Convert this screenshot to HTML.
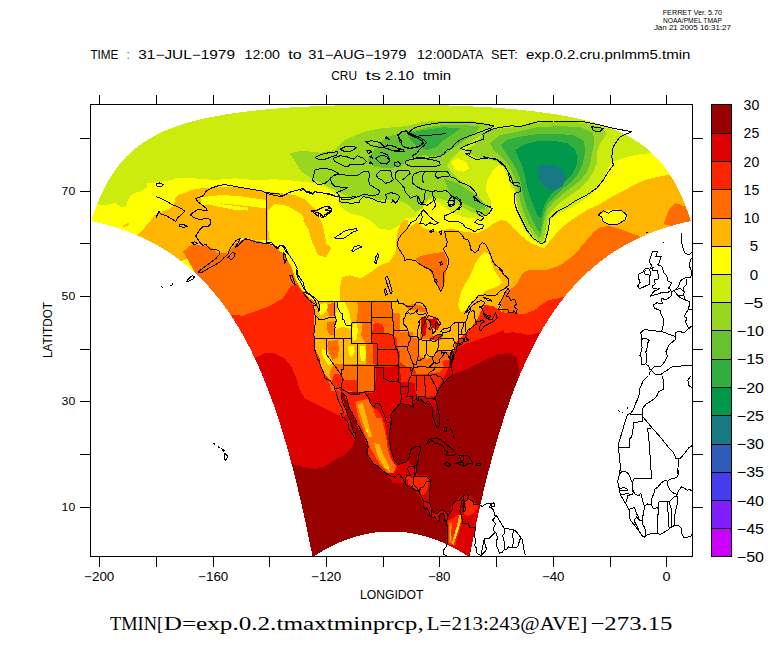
<!DOCTYPE html>
<html><head><meta charset="utf-8"><title>FERRET</title>
<style>
html,body{margin:0;padding:0;background:#fff;}
svg{display:block}
text{font-family:"Liberation Sans",sans-serif;fill:#000}
.ser{font-family:"Liberation Serif",serif}
</style></head><body>
<svg width="768" height="662" viewBox="0 0 768 662">
<rect width="768" height="662" fill="#fff"/>
<defs><clipPath id="dom"><polygon points="91.2,221.0 93.1,215.2 95.2,209.5 97.3,203.8 99.6,198.2 102.1,192.6 104.8,187.2 107.7,181.8 110.9,176.6 114.3,171.4 118.0,166.3 122.1,161.4 126.5,156.5 131.5,151.8 136.9,147.2 142.9,142.8 149.7,138.5 157.2,134.4 165.7,130.4 175.3,126.7 186.2,123.1 198.6,119.8 212.7,116.7 228.9,113.9 247.4,111.4 268.3,109.2 291.9,107.4 317.9,106.0 346.2,105.1 375.9,104.6 406.1,104.6 435.9,105.1 464.1,106.0 490.2,107.4 513.7,109.2 534.7,111.4 553.1,113.9 569.3,116.7 583.5,119.8 595.9,123.1 606.7,126.7 616.3,130.4 624.8,134.4 632.4,138.5 639.1,142.8 645.2,147.2 650.6,151.8 655.5,156.5 660.0,161.4 664.1,166.3 667.8,171.4 671.2,176.6 674.3,181.8 677.2,187.2 679.9,192.6 682.4,198.2 684.7,203.8 686.9,209.5 688.9,215.2 690.8,221.0 681.8,223.0 673.0,225.4 664.4,227.9 656.1,230.8 648.0,234.0 640.2,237.4 632.6,241.0 625.4,244.9 618.3,249.0 611.6,253.3 605.1,257.9 598.9,262.6 592.9,267.5 587.2,272.6 581.7,277.9 576.4,283.3 571.4,288.8 566.5,294.5 561.9,300.3 557.4,306.3 553.2,312.3 549.1,318.5 545.2,324.7 541.4,331.0 537.8,337.4 534.4,343.9 531.1,350.4 527.9,357.0 524.8,363.6 521.9,370.2 519.1,376.9 516.3,383.6 513.7,390.4 511.2,397.1 508.8,403.9 506.4,410.6 504.2,417.4 502.0,424.1 499.9,430.9 497.8,437.6 495.9,444.3 494.0,450.9 492.2,457.6 490.4,464.2 488.7,470.7 487.0,477.3 485.4,483.7 483.8,490.2 482.3,496.5 480.9,502.9 479.4,509.2 478.1,515.4 476.7,521.5 475.4,527.6 474.2,533.7 472.9,539.7 471.7,545.6 470.6,551.4 469.4,557.2 467.0,555.6 464.5,554.0 462.0,552.5 459.5,551.0 457.0,549.5 454.4,548.2 451.8,546.8 449.3,545.5 446.7,544.3 444.0,543.1 441.4,542.0 438.8,540.9 436.1,539.9 433.5,538.9 430.8,538.0 428.1,537.1 425.4,536.3 422.7,535.6 419.9,534.9 417.2,534.3 414.5,533.7 411.7,533.2 409.0,532.8 406.2,532.4 403.5,532.1 400.7,531.9 397.9,531.7 395.2,531.6 392.4,531.5 389.6,531.5 386.9,531.6 384.1,531.7 381.3,531.9 378.6,532.1 375.8,532.4 373.1,532.8 370.3,533.2 367.6,533.7 364.8,534.3 362.1,534.9 359.4,535.6 356.7,536.3 354.0,537.1 351.3,538.0 348.6,538.9 345.9,539.9 343.3,540.9 340.6,542.0 338.0,543.1 335.4,544.3 332.8,545.5 330.2,546.8 327.6,548.2 325.1,549.5 322.6,551.0 320.0,552.5 317.5,554.0 315.1,555.6 312.6,557.2 311.5,551.4 310.3,545.6 309.1,539.7 307.9,533.7 306.6,527.6 305.3,521.5 304.0,515.4 302.6,509.2 301.2,502.9 299.7,496.5 298.2,490.2 296.7,483.7 295.0,477.3 293.4,470.7 291.7,464.2 289.9,457.6 288.1,450.9 286.2,444.3 284.2,437.6 282.2,430.9 280.1,424.1 277.9,417.4 275.6,410.6 273.3,403.9 270.9,397.1 268.3,390.4 265.7,383.6 263.0,376.9 260.2,370.2 257.2,363.6 254.2,357.0 251.0,350.4 247.7,343.9 244.2,337.4 240.6,331.0 236.9,324.7 232.9,318.5 228.9,312.3 224.6,306.3 220.2,300.3 215.5,294.5 210.7,288.8 205.6,283.3 200.4,277.9 194.9,272.6 189.1,267.5 183.2,262.6 176.9,257.9 170.5,253.3 163.7,249.0 156.7,244.9 149.4,241.0 141.8,237.4 134.0,234.0 125.9,230.8 117.6,227.9 109.0,225.4 100.2,223.0"/></clipPath>
<clipPath id="frame"><rect x="90.5" y="104.5" width="602.0" height="452.0"/></clipPath></defs>

<g clip-path="url(#frame)"><g shape-rendering="crispEdges">
<rect x="80" y="100" width="620" height="460" fill="#CCEB0F"/>
<polygon fill="#FFFF00" points="88.0,200.0 97.4,204.2 104.7,205.2 115.1,203.1 121.3,207.3 126.5,206.2 127.6,200.0 130.7,195.8 134.9,192.7 140.1,191.7 147.4,187.5 147.4,183.3 156.8,182.3 171.3,180.2 175.5,178.3 196.3,178.3 204.7,180.4 217.2,180.4 223.4,178.3 233.8,179.4 248.0,179.8 248.0,237.9 88.0,237.9"/>
<polygon fill="#FFFF00" points="344.0,201.7 354.0,208.3 364.0,211.7 377.3,213.3 387.3,211.7 397.3,215.0 407.3,218.3 415.7,216.7 422.3,206.7 429.0,200.0 437.3,201.7 444.0,206.7 454.0,213.3 464.0,217.3 477.3,218.7 487.3,215.0 490.7,210.0 490.7,200.0 485.7,190.0 487.3,180.0 492.3,171.7 499.0,165.0 503.3,166.7 509.0,180.0 510.7,188.3 517.3,190.0 520.7,196.7 517.3,206.7 519.0,216.7 524.0,230.0 532.3,240.0 544.0,245.7 547.3,236.7 554.0,226.7 564.0,216.7 577.3,208.3 590.7,200.0 600.0,186.7 600.0,320.0 344.0,320.0"/>
<polygon fill="#FFFF00" points="543.7,244.0 547.0,233.3 550.3,220.0 558.7,213.3 572.0,207.3 583.7,200.0 593.7,191.7 600.3,185.0 605.3,175.0 610.3,163.3 622.0,158.3 635.3,155.0 648.7,153.3 658.7,153.3 768.0,153.3 768.0,320.0 512.0,320.0 512.0,245.7"/>
<polygon fill="#FFFF00" points="88.0,210.0 97.3,204.0 104.7,205.3 115.0,203.0 121.3,207.3 126.7,206.3 127.7,200.0 130.7,196.0 135.0,192.7 140.0,191.7 147.3,187.3 147.3,183.3 156.7,182.3 171.3,180.3 188.0,178.3 204.7,179.3 221.3,180.0 234.7,178.3 254.7,180.0 274.7,179.3 294.7,180.7 314.7,183.3 328.0,188.3 338.0,195.0 344.0,201.7 344.0,320.0 88.0,320.0"/>
<polygon fill="#FFB600" points="139.0,237.9 148.4,227.3 150.5,221.0 156.8,220.0 167.2,216.9 173.4,206.5 175.5,198.1 179.7,194.0 188.0,192.9 196.3,189.8 204.7,188.8 217.2,189.8 233.8,191.9 248.0,191.5 248.0,237.9"/>
<polygon fill="#FFB600" points="344.0,296.7 350.7,293.3 360.7,286.7 370.7,280.0 380.7,273.3 390.7,266.7 397.3,260.0 395.7,250.0 397.3,240.0 402.3,231.7 410.7,226.7 417.3,221.7 424.0,228.3 437.3,231.7 450.7,228.3 464.0,231.7 477.3,233.3 487.3,228.3 494.0,223.3 500.7,220.0 507.3,221.7 514.0,228.3 520.7,235.0 530.7,243.3 544.0,248.3 550.7,240.0 560.7,228.3 574.0,218.3 587.3,210.0 600.0,204.0 600.0,320.0 344.0,320.0"/>
<polygon fill="#FFB600" points="520.7,235.0 530.7,243.3 544.0,248.3 550.7,240.0 560.7,228.3 574.0,218.3 587.3,210.0 600.0,204.0 612.0,196.7 625.3,190.0 633.7,185.0 645.3,180.0 658.7,176.7 672.0,174.0 768.0,174.0 768.0,320.0 512.0,320.0 512.0,233.3"/>
<polygon fill="#FFB600" points="121.3,240.0 138.0,235.0 149.7,221.7 154.7,215.0 173.0,206.7 176.3,196.7 184.7,193.3 191.3,190.0 201.3,188.3 221.3,186.7 238.0,187.3 254.7,189.3 266.3,191.7 281.3,193.3 294.7,195.0 304.7,199.3 316.3,210.0 323.0,226.7 326.3,243.3 328.0,255.0 318.0,255.0 311.3,240.0 308.0,226.7 301.3,214.0 288.0,206.0 274.7,204.0 268.0,210.0 268.0,226.7 269.7,240.0 254.7,240.0 241.3,236.7 234.7,246.7 221.3,256.7 198.0,256.7 183.0,260.0 171.3,273.3"/>
<polygon fill="#FFB600" points="339.7,301.7 339.7,288.8 342.2,277.3 350.1,275.2 360.5,278.3 370.9,272.1 379.2,265.8 389.7,261.7 395.9,251.2 396.3,240.8 398.0,230.4 402.2,220.0 408.0,220.0 408.0,301.7"/>
<polygon fill="#FFB600" points="323.2,301.5 552.3,301.5 552.3,602.5 323.2,602.5"/>
<polygon fill="#FF6D00" points="415.7,258.3 424.0,255.0 434.0,253.3 444.0,251.7 447.3,260.0 445.7,273.3 444.0,286.7 439.0,290.0 434.0,276.7 427.3,268.3 419.0,263.3"/>
<polygon fill="#FF6D00" points="512.0,300.0 517.3,286.7 524.0,276.7 534.0,271.7 547.3,270.0 560.7,265.0 574.0,255.0 584.0,243.3 594.0,231.7 600.0,227.3 608.7,226.0 618.7,228.3 627.0,231.7 637.0,235.0 645.3,240.0 645.3,320.0 512.0,320.0"/>
<polygon fill="#FF6D00" points="663.7,224.0 668.7,210.0 675.3,202.7 685.3,206.7 693.7,221.7 678.7,228.3"/>
<polygon fill="#FF6D00" points="183.0,251.7 191.3,245.0 209.7,246.0 218.0,253.3 228.0,253.3 236.3,243.3 244.7,238.3 261.3,241.7 274.7,246.7 284.7,255.0 291.3,266.7 295.3,278.3 301.3,290.0 308.0,296.7 314.7,301.7 318.0,310.0 321.3,320.0 221.3,320.0 188.0,260.0"/>
<polygon fill="#FF6D00" points="323.2,301.5 371.1,301.5 393.0,301.5 394.0,315.0 396.1,331.7 412.8,331.7 413.2,338.3 420.0,338.3 421.5,319.2 427.3,315.0 432.5,321.2 433.6,331.7 431.5,339.0 438.8,340.0 439.8,349.4 452.3,353.5 504.0,331.7 504.0,456.7 323.2,456.7"/>
<polygon fill="#FF6D00" points="510.2,289.6 517.5,283.3 521.7,275.0 525.8,270.8 534.2,269.8 546.7,269.8 559.2,266.7 567.5,262.5 575.8,254.2 580.0,250.0 617.5,250.0 617.5,395.8 455.0,395.8 455.0,343.8 463.3,335.4 469.6,329.2 474.8,322.9 479.0,316.7 481.0,310.4 484.6,305.2 492.5,305.8 498.8,309.4 501.9,312.5 500.8,300.0 505.0,291.7"/>
<polygon fill="#FF2400" points="532.0,320.0 538.7,306.7 548.7,300.0 558.7,298.3 567.0,296.0 578.7,300.0 578.7,320.0"/>
<polygon fill="#FF2400" points="228.0,320.0 231.3,315.0 243.0,315.7 254.7,311.7 269.7,306.0 283.0,298.3 289.7,287.3 296.3,284.0 304.7,293.3 314.7,306.7 318.7,320.0"/>
<polygon fill="#FF2400" points="188.0,320.0 318.0,320.0 321.3,353.3 334.7,403.3 344.0,420.0 344.0,560.0 254.7,560.0"/>
<polygon fill="#FF2400" points="370.7,319.2 380.5,317.1 388.8,321.2 393.6,332.7 398.6,349.4 399.8,361.9 406.5,366.7 415.2,368.8 415.9,373.8 427.3,373.8 438.8,372.3 444.0,367.1 441.9,360.8 448.2,359.8 452.3,356.7 456.5,350.4 463.8,341.0 466.9,336.9 471.1,331.7 477.3,327.5 487.8,328.5 496.1,319.2 504.0,310.8 504.0,456.7 291.9,456.7 291.9,390.0 358.6,392.1 375.2,392.1 375.2,367.1 377.3,350.4 372.1,350.4 371.5,334.8"/>
<polygon fill="#FF2400" points="455.0,343.8 463.3,335.4 469.6,329.2 474.8,322.9 479.0,316.7 481.0,310.4 484.6,305.2 492.5,305.8 498.8,309.4 501.9,312.5 513.3,312.5 517.5,313.5 525.8,313.5 534.2,310.4 540.4,305.8 546.7,302.1 555.0,299.0 563.3,296.9 563.3,395.8 450.8,395.8"/>
<polygon fill="#DD0000" points="254.7,358.3 264.7,353.3 274.7,353.3 284.7,358.3 291.3,366.7 296.3,378.3 299.7,390.0 304.7,398.3 314.7,403.3 324.7,408.3 334.7,413.3 344.0,417.3 344.0,560.0 301.3,560.0"/>
<polygon fill="#DD0000" points="375.2,367.1 399.8,366.7 401.3,381.7 414.8,382.7 415.9,396.2 426.3,397.3 435.7,395.2 436.7,392.1 439.8,383.8 446.1,373.3 452.3,360.8 457.5,351.5 469.0,344.6 481.5,338.3 494.0,334.2 504.0,330.0 504.0,456.7 344.0,456.7 344.0,406.7 356.5,398.3 364.8,394.2 375.2,392.1"/>
<polygon fill="#DD0000" points="450.8,354.2 457.1,347.9 465.4,343.8 475.8,340.6 484.2,337.5 492.5,336.5 502.9,333.3 513.3,332.3 521.7,333.3 530.0,335.4 535.2,333.3 546.7,333.3 546.7,395.8 442.5,395.8"/>
<polygon fill="#990000" points="289.7,463.3 301.3,466.7 314.7,469.3 324.7,466.7 334.7,460.0 344.0,455.0 344.0,560.0 304.7,560.0"/>
<polygon fill="#990000" points="439.0,391.7 444.0,385.0 454.0,376.7 470.7,370.0 487.3,361.7 500.7,355.0 510.7,353.3 516.7,358.3 519.0,370.0 517.3,383.3 514.0,396.7 600.0,396.7 600.0,560.0 442.3,560.0 442.3,431.7 440.7,420.0 439.0,403.3"/>
<polygon fill="#990000" points="435.7,394.2 438.8,387.9 444.0,381.7 452.3,374.4 464.8,370.2 477.3,365.0 489.8,358.8 499.2,353.5 504.0,353.5 504.0,427.9 435.7,427.9"/>
<polygon fill="#990000" points="390.9,427.9 390.9,415.0 394.0,408.8 400.2,404.6 406.5,403.5 412.8,405.6 415.9,400.4 423.2,401.5 429.4,403.5 433.6,406.7 435.7,415.0 437.8,427.9"/>
<polygon fill="#990000" points="438.3,387.9 450.8,379.2 461.2,372.9 471.7,366.7 484.2,360.4 496.7,355.2 507.1,353.1 513.3,356.2 516.5,362.5 517.5,370.8 516.5,379.2 515.4,387.9"/>
<polygon fill="#990000" points="283.5,462.5 301.2,466.6 314.8,469.3 324.8,466.6 334.8,460.0 343.9,455.2 351.2,448.9 354.3,442.7 355.0,438.1 350.6,423.9 346.0,409.3 341.8,398.9 340.8,391.6 358.5,391.6 379.3,417.7 390.8,423.9 390.8,415.6 393.9,408.7 400.2,404.5 406.4,403.5 412.7,405.6 415.8,400.4 423.1,401.4 429.3,403.5 433.5,406.6 435.6,415.0 437.7,428.1 439.8,428.1 441.8,407.2 483.5,407.2 483.5,563.5 283.5,563.5"/>
<polygon fill="#99D61F" points="344.0,140.0 354.0,136.0 364.0,131.7 380.7,128.3 400.7,126.7 410.7,125.0 424.0,121.7 444.0,120.7 467.3,120.7 484.0,122.7 492.3,126.7 484.0,133.3 474.0,140.0 464.0,146.7 457.3,153.3 450.7,160.0 447.3,166.7 454.0,175.0 464.0,183.3 477.3,195.0 487.3,206.7 490.7,213.3 484.0,216.7 470.7,211.7 457.3,204.0 444.0,200.0 434.0,196.7 427.3,200.0 422.3,208.3 415.7,211.7 407.3,204.0 397.3,200.0 387.3,202.0 377.3,200.0 364.0,196.7 354.0,198.7 344.0,195.0"/>
<polygon fill="#99D61F" points="465.0,150.0 473.3,146.0 483.3,134.0 493.3,129.3 513.3,127.3 536.7,122.7 560.0,121.7 583.3,122.7 600.0,126.7 606.7,133.3 600.0,143.3 596.7,153.3 596.7,163.3 593.3,171.7 588.3,180.0 581.7,187.3 573.3,193.3 563.3,200.0 555.0,207.3 548.3,215.0 546.0,228.3 543.3,240.0 541.0,242.7 534.0,236.7 527.3,228.3 522.7,218.3 518.3,208.3 516.0,199.3 515.0,190.0 511.7,180.0 506.7,170.0 499.3,162.7 486.7,158.3 475.0,157.3"/>
<polygon fill="#99D61F" points="289.7,153.3 301.3,150.7 321.3,152.7 334.7,150.0 344.0,140.0 344.0,195.0 334.7,190.0 321.3,183.3 311.3,178.3 301.3,171.7 296.3,163.3"/>
<polygon fill="#66C22E" points="367.3,160.0 374.0,150.0 387.3,136.7 404.0,132.3 417.3,130.0 430.7,126.7 444.0,125.0 464.0,125.0 480.7,126.7 470.7,136.7 460.7,143.3 450.7,150.0 444.0,155.0 434.0,156.7 424.0,155.0 410.7,158.3 400.7,166.7 387.3,168.3 374.0,166.7"/>
<polygon fill="#66C22E" points="444.0,178.3 457.3,183.3 470.7,191.7 480.7,200.0 485.7,208.3 477.3,210.0 464.0,203.3 450.7,196.7"/>
<polygon fill="#66C22E" points="490.0,143.3 500.0,135.0 516.7,131.7 536.7,127.3 560.0,126.0 580.0,127.3 593.3,132.7 594.0,143.3 591.7,155.0 590.0,165.0 586.0,173.3 580.0,180.7 571.7,187.3 562.7,194.0 554.0,201.7 547.3,209.3 544.0,221.7 541.7,235.0 539.3,238.3 534.0,231.7 528.3,223.3 524.0,213.3 520.7,203.3 518.7,193.3 516.7,183.3 513.3,174.0 508.3,165.0 501.7,156.7 493.3,150.0"/>
<polygon fill="#33AD3D" points="407.3,133.3 424.0,130.0 444.0,127.3 460.7,128.3 454.0,133.3 444.0,140.0 437.3,146.7 427.3,150.0 417.3,146.7 410.7,140.0"/>
<polygon fill="#33AD3D" points="500.7,145.0 508.3,139.3 520.0,136.7 536.7,134.3 556.7,133.7 573.3,135.3 583.3,140.0 585.3,148.3 584.3,157.3 582.0,166.0 578.0,174.0 571.7,181.7 563.3,188.3 555.0,196.0 548.3,203.3 544.0,213.3 541.7,225.0 540.0,233.3 536.7,228.3 531.7,218.3 527.3,208.3 524.0,198.3 522.0,188.3 520.0,178.3 516.0,168.3 510.7,160.0 505.0,151.7"/>
<polygon fill="#00994C" points="515.0,150.0 525.0,144.3 536.7,141.3 553.3,140.7 567.3,143.3 575.0,149.3 577.7,157.3 576.3,166.0 572.7,173.7 566.7,180.0 559.3,186.0 551.7,193.3 546.0,201.7 542.7,210.0 540.7,218.3 537.3,215.0 533.3,205.0 529.3,195.0 526.7,185.0 525.0,175.0 521.7,165.0 517.3,155.0"/>
<polygon fill="#177A82" points="536.7,168.3 543.3,165.0 555.0,165.0 563.3,170.7 566.0,178.3 562.7,186.0 555.0,190.7 546.7,188.3 540.0,181.7"/>
<polygon fill="#FFFF00" points="200.5,199.2 213.0,200.2 223.4,204.4 248.0,207.5 248.0,210.6 233.8,209.6 217.2,206.5 200.5,202.3"/>
<polygon fill="#FFB600" points="122.4,226.0 128.6,222.9 128.6,225.0 123.4,227.5"/>
<polygon fill="#FFFF00" points="450.7,161.7 457.3,158.3 465.7,161.7 469.0,168.3 464.0,171.7 455.7,170.0"/>
<polygon fill="#FFFF00" points="599.3,215.0 607.0,210.0 618.7,209.3 627.0,213.3 627.0,219.3 618.7,224.0 608.7,225.0 601.3,220.7"/>
<polygon fill="#FFFF00" points="201.3,197.3 221.3,195.0 238.0,196.0 266.3,200.0 266.3,208.3 238.0,205.0 221.3,203.3 201.3,205.0"/>
<polygon fill="#FFB600" points="302.6,220.0 318.8,220.0 317.8,232.5 320.9,240.8 331.3,247.1 326.1,257.5 319.9,255.4 314.7,247.1 310.5,232.5"/>
<polygon fill="#DD0000" points="421.5,317.1 425.7,316.0 426.9,325.4 425.7,334.8 422.8,336.9 420.7,327.5"/>
<polygon fill="#DD0000" points="428.4,319.2 435.7,318.1 439.4,324.4 437.8,330.6 432.5,327.5 429.4,323.3"/>
<polygon fill="#FF2400" points="430.5,336.9 436.7,334.8 441.9,334.8 440.9,340.0 433.6,341.0"/>
<polygon fill="#FFB600" points="314.3,301.2 400.0,301.2 400.0,381.9 331.9,381.9 324.7,374.1 320.8,365.0 319.5,358.5 315.6,350.7 314.1,339.0 313.7,328.6 314.3,318.1 314.1,309.0"/>
<polygon fill="#FF6D00" points="328.0,303.8 334.5,303.2 334.5,315.5 329.3,315.5 327.3,310.3"/>
<polygon fill="#FF6D00" points="357.3,301.9 391.8,301.9 392.7,312.3 400.0,313.6 400.0,333.8 393.1,333.8 371.6,333.8 371.6,343.1 365.1,343.1 361.2,335.1 362.5,322.7 356.0,322.7 357.3,315.5 357.9,307.7"/>
<polygon fill="#FF6D00" points="327.3,322.0 334.5,321.4 334.5,335.1 329.3,335.1 326.7,328.6"/>
<polygon fill="#FF6D00" points="328.0,340.9 337.8,340.3 339.1,348.1 337.8,357.2 332.6,359.8 329.3,353.3 327.3,346.8"/>
<polygon fill="#FF6D00" points="333.9,363.7 343.6,363.7 357.3,363.7 366.4,363.7 366.4,343.5 372.9,343.5 372.9,363.7 374.9,364.4 374.9,381.9 331.9,381.9 329.3,374.1"/>
<polygon fill="#FFFF00" points="320.8,303.8 326.0,303.2 328.0,307.7 324.7,312.9 320.8,315.5 318.9,311.6 319.5,306.4"/>
<polygon fill="#FFFF00" points="337.8,301.9 344.3,301.9 348.2,309.0 350.1,315.5 350.8,322.0 351.4,327.2 349.5,328.6 343.0,327.0 335.2,329.2 335.8,319.4 336.5,311.6"/>
<polygon fill="#FFFF00" points="352.7,324.0 356.6,323.3 357.9,329.9 356.6,339.0 354.0,341.6 352.1,335.1"/>
<polygon fill="#FFFF00" points="321.5,347.4 326.0,350.7 330.6,358.5 332.6,363.7 328.6,365.0 324.7,359.8 321.5,353.3"/>
<polygon fill="#FFFF00" points="348.2,346.1 354.0,345.5 354.7,352.0 352.1,357.2 348.8,354.6"/>
<polygon fill="#FFFF00" points="360.5,346.1 365.1,345.5 366.1,353.3 365.1,361.1 361.2,360.5 359.9,353.3"/>
<polygon fill="#FF2400" points="372.9,324.0 378.1,322.7 383.3,325.3 384.6,333.8 372.3,333.8"/>
<polygon fill="#FF2400" points="371.6,333.8 393.1,333.8 397.0,339.0 397.7,350.0 400.0,350.7 400.0,381.9 374.9,381.9 374.9,364.4 372.9,363.7 372.9,343.5 371.6,343.1"/>
<polygon fill="#DD0000" points="375.5,367.0 400.0,366.3 400.0,381.9 375.5,381.9"/>
<polygon fill="#FFFF00" points="458.1,304.2 461.2,291.7 465.4,283.3 470.6,275.0 474.8,264.6 480.0,256.2 484.2,252.1 489.4,254.2 491.5,262.5 494.6,270.8 498.8,277.1 502.9,282.3 498.8,285.4 492.5,288.5 488.3,289.6 482.1,293.8 475.8,296.9 471.7,302.1 465.4,310.4 461.2,312.5 459.2,308.3"/>
<polygon fill="#DD0000" points="337.5,388.5 341.7,388.5 351.7,393.5 357.5,393.5 357.5,391.8 366.7,391.8 368.3,396.0 373.3,405.2 376.7,401.8 380.0,405.2 383.3,414.3 387.5,421.8 390.8,423.5 389.2,432.7 389.2,441.0 390.8,449.3 393.3,457.7 398.3,464.3 405.0,462.7 408.3,459.3 410.8,464.3 415.0,466.0 416.7,472.7 420.0,482.7 393.3,482.7 386.7,474.3 378.3,467.7 371.7,461.0 367.5,452.7 368.3,447.7 364.2,437.7 357.5,426.0 353.3,416.0 348.3,404.3 344.2,394.3 340.0,391.0"/>
<polygon fill="#FF2400" points="341.7,390.2 351.7,394.3 357.5,394.3 366.7,392.7 371.7,406.0 376.7,409.3 381.7,416.0 385.0,424.3 386.7,436.0 389.2,449.3 392.5,461.0 397.5,467.7 393.3,472.7 386.7,473.5 378.3,467.7 371.7,461.0 367.5,452.7 368.3,447.7 364.2,437.7 357.5,426.0 353.3,416.0 348.3,404.3 344.2,394.3"/>
<polygon fill="#FF2400" points="335.8,387.7 340.0,392.7 344.2,402.7 347.5,412.7 345.0,416.0 341.7,414.3 340.8,407.7 337.5,397.7"/>
<polygon fill="#DD0000" points="347.5,412.7 351.7,424.3 355.8,434.3 355.0,439.3 354.2,436.0 350.0,429.3 347.5,421.0 341.7,414.3 345.0,416.0"/>
<polygon fill="#FF2400" points="334.2,373.5 341.7,375.2 341.7,380.2 357.5,380.2 357.5,392.7 341.7,389.3 335.8,387.7 331.7,382.7"/>
<polygon fill="#FF2400" points="406.4,473.9 412.7,476.0 421.0,478.1 427.2,480.2 429.3,488.5 425.2,492.7 421.0,488.5 414.8,486.4 409.5,482.2"/>
<polygon fill="#DD0000" points="447.6,514.9 453.0,502.6 459.8,497.2 463.9,494.5 468.0,497.2 470.7,495.2 474.1,502.6 481.6,505.4 487.0,504.0 468.0,557.0 446.2,546.1 446.9,519.0"/>
<polygon fill="#990000" points="462.3,499.2 463.9,497.2 465.0,502.6 464.2,510.8 462.3,512.2 461.2,506.7"/>
<polygon fill="#FF2400" points="465.3,501.3 470.7,499.9 476.1,504.0 478.9,508.1 476.1,510.8 470.7,514.9 466.6,516.2 463.9,513.5 466.0,508.1"/>
<polygon fill="#FF2400" points="448.3,520.3 459.8,514.2 462.6,514.9 461.2,524.4 458.5,533.9 455.1,546.1 447.6,544.1"/>
<polygon fill="#FFB600" points="459.2,514.9 461.9,515.6 460.5,523.0 458.5,529.8 455.8,538.0 453.7,544.8 451.7,544.1 453.7,536.6 456.0,528.5 457.8,521.7"/>
<polygon fill="#FFFF00" points="458.2,524.4 459.6,525.1 457.8,531.2 455.5,538.0 454.4,537.7 456.4,530.5"/>
<polygon fill="#FF6D00" points="449.2,522.4 451.9,523.0 451.4,531.2 451.7,543.4 449.2,543.4 448.7,531.2"/>
<polygon fill="#FFB600" points="449.8,527.1 451.1,527.4 450.9,540.7 449.8,540.7"/>
<polygon fill="#DD0000" points="400.0,470.0 417.0,470.0 417.7,475.4 427.2,475.4 430.6,479.5 429.2,487.7 429.2,499.9 432.0,510.8 436.7,513.5 440.8,509.4 444.9,510.8 447.6,514.9 446.9,520.3 443.5,514.9 440.8,513.5 438.1,521.7 432.6,517.6 428.6,512.2 424.5,506.7 420.4,497.2 415.0,490.4 408.2,485.0 400.0,475.4"/>
<polygon fill="#FF2400" points="406.8,475.4 412.9,478.2 417.7,476.8 426.5,476.8 428.6,482.2 427.2,490.4 423.1,495.8 419.0,491.8 413.6,487.7 408.2,483.6"/>
<polygon fill="#FF6D00" points="393.1,333.8 400.0,333.8 400.0,350.7 397.7,350.0 397.0,339.0"/>
<polygon fill="#FFB600" points="419.4,339.0 438.8,340.0 439.8,349.4 435.7,354.6 427.3,358.8 420.0,356.7 418.6,348.3"/>
<polygon fill="#FF6D00" points="406.5,305.6 412.8,304.2 420.0,305.6 426.3,308.8 427.3,312.9 421.1,311.9 414.8,309.8 408.6,309.8"/>
<polygon fill="#FF6D00" points="355.4,402.0 367.9,398.9 373.1,409.3 376.2,417.7 381.4,417.7 384.5,430.2 386.6,440.6 387.7,448.9 390.8,459.3 396.0,465.6 393.9,472.9 387.7,472.9 379.3,463.5 371.0,448.9 364.8,434.3 358.5,417.7"/>
<polygon fill="#FFB600" points="357.5,404.1 362.7,403.1 365.8,413.5 368.9,426.0 372.0,436.4 368.9,437.5 364.8,428.1 360.6,415.6"/>
<polygon fill="#FFB600" points="374.1,442.7 379.3,444.8 383.5,455.2 388.7,465.6 389.8,471.8 384.5,467.7 379.3,459.3 376.2,451.0"/>
<polygon fill="#FFFF00" points="366.0,429.8 368.1,430.6 367.7,432.7 366.0,432.2"/>
<polygon fill="#FFFF00" points="386.8,466.4 388.9,467.2 388.5,469.3 386.8,468.9"/>
<polygon fill="#CCEB0F" points="338.3,200.0 340.0,206.7 350.0,213.3 363.3,216.7 371.7,221.7 378.3,228.3 390.0,230.0 400.0,225.0 406.7,218.3 410.0,210.0 400.0,205.0 393.3,200.0"/>
<path fill="#fff" fill-rule="evenodd" d="M80 95H700V565H80ZM91.2,221.0L93.1,215.2L95.2,209.5L97.3,203.8L99.6,198.2L102.1,192.6L104.8,187.2L107.7,181.8L110.9,176.6L114.3,171.4L118.0,166.3L122.1,161.4L126.5,156.5L131.5,151.8L136.9,147.2L142.9,142.8L149.7,138.5L157.2,134.4L165.7,130.4L175.3,126.7L186.2,123.1L198.6,119.8L212.7,116.7L228.9,113.9L247.4,111.4L268.3,109.2L291.9,107.4L317.9,106.0L346.2,105.1L375.9,104.6L406.1,104.6L435.9,105.1L464.1,106.0L490.2,107.4L513.7,109.2L534.7,111.4L553.1,113.9L569.3,116.7L583.5,119.8L595.9,123.1L606.7,126.7L616.3,130.4L624.8,134.4L632.4,138.5L639.1,142.8L645.2,147.2L650.6,151.8L655.5,156.5L660.0,161.4L664.1,166.3L667.8,171.4L671.2,176.6L674.3,181.8L677.2,187.2L679.9,192.6L682.4,198.2L684.7,203.8L686.9,209.5L688.9,215.2L690.8,221.0L681.8,223.0L673.0,225.4L664.4,227.9L656.1,230.8L648.0,234.0L640.2,237.4L632.6,241.0L625.4,244.9L618.3,249.0L611.6,253.3L605.1,257.9L598.9,262.6L592.9,267.5L587.2,272.6L581.7,277.9L576.4,283.3L571.4,288.8L566.5,294.5L561.9,300.3L557.4,306.3L553.2,312.3L549.1,318.5L545.2,324.7L541.4,331.0L537.8,337.4L534.4,343.9L531.1,350.4L527.9,357.0L524.8,363.6L521.9,370.2L519.1,376.9L516.3,383.6L513.7,390.4L511.2,397.1L508.8,403.9L506.4,410.6L504.2,417.4L502.0,424.1L499.9,430.9L497.8,437.6L495.9,444.3L494.0,450.9L492.2,457.6L490.4,464.2L488.7,470.7L487.0,477.3L485.4,483.7L483.8,490.2L482.3,496.5L480.9,502.9L479.4,509.2L478.1,515.4L476.7,521.5L475.4,527.6L474.2,533.7L472.9,539.7L471.7,545.6L470.6,551.4L469.4,557.2L467.0,555.6L464.5,554.0L462.0,552.5L459.5,551.0L457.0,549.5L454.4,548.2L451.8,546.8L449.3,545.5L446.7,544.3L444.0,543.1L441.4,542.0L438.8,540.9L436.1,539.9L433.5,538.9L430.8,538.0L428.1,537.1L425.4,536.3L422.7,535.6L419.9,534.9L417.2,534.3L414.5,533.7L411.7,533.2L409.0,532.8L406.2,532.4L403.5,532.1L400.7,531.9L397.9,531.7L395.2,531.6L392.4,531.5L389.6,531.5L386.9,531.6L384.1,531.7L381.3,531.9L378.6,532.1L375.8,532.4L373.1,532.8L370.3,533.2L367.6,533.7L364.8,534.3L362.1,534.9L359.4,535.6L356.7,536.3L354.0,537.1L351.3,538.0L348.6,538.9L345.9,539.9L343.3,540.9L340.6,542.0L338.0,543.1L335.4,544.3L332.8,545.5L330.2,546.8L327.6,548.2L325.1,549.5L322.6,551.0L320.0,552.5L317.5,554.0L315.1,555.6L312.6,557.2L311.5,551.4L310.3,545.6L309.1,539.7L307.9,533.7L306.6,527.6L305.3,521.5L304.0,515.4L302.6,509.2L301.2,502.9L299.7,496.5L298.2,490.2L296.7,483.7L295.0,477.3L293.4,470.7L291.7,464.2L289.9,457.6L288.1,450.9L286.2,444.3L284.2,437.6L282.2,430.9L280.1,424.1L277.9,417.4L275.6,410.6L273.3,403.9L270.9,397.1L268.3,390.4L265.7,383.6L263.0,376.9L260.2,370.2L257.2,363.6L254.2,357.0L251.0,350.4L247.7,343.9L244.2,337.4L240.6,331.0L236.9,324.7L232.9,318.5L228.9,312.3L224.6,306.3L220.2,300.3L215.5,294.5L210.7,288.8L205.6,283.3L200.4,277.9L194.9,272.6L189.1,267.5L183.2,262.6L176.9,257.9L170.5,253.3L163.7,249.0L156.7,244.9L149.4,241.0L141.8,237.4L134.0,234.0L125.9,230.8L117.6,227.9L109.0,225.4L100.2,223.0 Z"/>
</g>
<g fill="none" stroke="#000" stroke-width="1" stroke-linejoin="round" shape-rendering="crispEdges">
<path d="M156.1 184.0L159.2 182.9L163.4 184.6L161.3 186.5L157.2 186.0Z"/>
<path d="M156.1 196.5L163.4 199.6L172.8 204.8L180.1 207.9L184.7 211.0L181.1 215.2L178.0 217.3L175.9 221.5L170.7 218.3L165.5 215.2L161.3 214.6L158.8 211.0L157.2 215.2L156.1 217.3L158.2 213.1"/>
<path d="M179.0 225.0L182.6 224.2L187.4 226.2L184.2 227.3L180.1 226.7Z"/>
<path d="M191.5 242.9L194.7 241.9L197.8 243.3L194.7 244.6Z"/>
<path d="M288.0 193.3L282.2 196.5L278.0 193.3L266.5 192.9L261.3 190.8L253.0 189.6L244.7 188.1L236.3 186.7L230.1 185.4L223.8 184.6L217.6 186.0L211.3 188.1L206.1 191.2L204.0 195.4L199.9 197.1L195.7 198.5L197.8 201.7L202.0 204.8L206.1 208.3L207.2 211.0L202.0 210.0L197.8 209.6L193.6 212.1L190.5 215.2L193.6 217.3L196.8 218.8L200.9 219.4L206.1 218.3L210.3 219.4L210.9 223.5L208.2 226.2L203.0 226.7L199.9 229.8L197.8 232.9L195.7 236.0L197.8 239.2L199.9 242.3L203.0 245.4L206.1 244.4L208.2 247.5L211.3 250.0L216.5 249.6L219.7 251.2L219.2 254.8L216.5 257.9L212.4 261.0L208.2 264.2L204.0 267.3L199.9 270.4L198.4 272.5L200.9 272.9L205.1 270.4L210.3 267.3L214.5 265.2L219.7 262.1L223.8 257.9L228.0 253.8L230.1 248.5L233.2 244.4L236.3 240.2L240.5 238.1L238.4 242.3L235.3 247.5L238.4 245.4L242.2 241.2L245.7 238.8L250.9 240.2L257.2 242.3L263.4 243.3L269.7 243.8L273.8 245.0L277.0 247.5L280.1 245.4L283.2 246.5L285.3 250.6L288.0 253.8"/>
<path d="M266.5 192.9L266.5 242.3L271.8 242.9"/>
<path d="M228.0 257.5L232.2 252.7L235.3 253.3L234.2 256.9L231.1 259.6Z"/>
<path d="M186.3 281.9L189.5 277.7L192.6 275.6L194.7 276.7L192.6 279.2L189.5 280.8Z"/>
<path d="M161.3 286.7L163.4 287.5M169.7 285.0L172.2 285.0L172.2 283.3"/>
<path d="M271.7 242.5L273.8 245.8L278.0 249.2L279.7 245.8L283.0 245.0L285.5 248.3L288.0 253.3L291.3 258.3L294.7 263.3L297.2 268.3L296.3 273.3L298.0 278.3L301.3 283.3L303.8 288.3L306.3 292.5L308.8 294.2"/>
<path d="M283.0 251.7L285.5 255.0L286.3 260.0L284.7 263.3L283.8 258.3Z"/>
<path d="M289.7 275.0L292.2 275.8L293.8 280.8L295.5 285.0L293.0 283.3L290.5 278.3Z"/>
<path d="M266.7 193.3L273.0 195.0L281.3 196.7L285.5 194.2L291.3 191.7L298.0 190.0L303.0 188.3L306.3 192.5L309.7 191.7L313.0 194.2L314.7 191.7L321.3 192.5L328.0 194.2L336.3 196.7L344.7 197.5L356.0 196.7"/>
<path d="M311.3 210.8L318.0 210.0L324.7 206.7L329.7 206.7L332.2 210.0L328.0 212.5L326.3 215.8L323.0 217.5L321.3 214.2L318.0 213.3L318.8 216.7Z"/>
<path d="M312.5 180.0L315.0 170.0L321.7 168.3L330.0 169.2L335.8 171.7L339.2 174.2L333.3 175.8L329.2 180.0L325.0 183.3L318.3 185.0Z"/>
<path d="M330.0 178.3L335.8 174.2L345.0 175.0L358.3 175.0L363.3 171.7L368.7 171.7L370.0 175.8L368.3 180.0L370.0 185.0L380.0 190.8L378.3 194.2L373.3 195.8L363.3 194.2L358.3 196.7L353.3 198.3L346.7 200.0L341.7 199.2L336.7 192.5L345.0 189.2L347.5 187.5L335.0 186.7L331.7 183.3Z"/>
<path d="M315.0 157.5L321.7 154.2L330.0 152.5L337.5 151.7L336.7 155.0L330.0 157.5L325.0 159.2L320.0 160.0Z"/>
<path d="M340.0 149.2L345.0 146.7L351.7 146.3L356.7 147.5L353.3 150.0L350.0 151.7L345.0 151.7Z"/>
<path d="M333.3 158.3L340.0 155.8L346.7 156.7L353.3 159.2L357.5 155.8L363.3 158.3L366.7 161.7L363.3 164.2L356.7 165.0L350.0 164.2L348.3 166.7L343.3 165.8L338.3 163.3L335.0 161.7Z"/>
<path d="M365.8 141.7L371.7 140.8L380.0 142.5L384.2 146.7L390.0 145.0L395.0 146.7L400.0 150.0L393.3 150.8L386.7 148.3L381.7 147.5L375.0 146.7L370.0 145.0Z"/>
<path d="M366.7 150.8L370.0 150.0L371.7 152.5L368.3 153.3ZM385.0 138.3L386.7 136.7L389.2 139.2ZM369.2 156.7L371.7 155.8L372.5 158.3ZM369.2 163.3L370.8 161.7L372.5 164.2Z"/>
<path d="M375.8 158.3L381.7 155.0L386.7 156.7L390.0 160.8L386.7 164.2L381.7 163.3L378.3 161.7Z"/>
<path d="M375.8 175.0L380.0 170.8L386.7 170.0L390.8 170.8L391.7 175.8L393.3 180.0L389.2 182.5L385.0 183.3L381.7 180.0L378.3 178.3Z"/>
<path d="M394.2 162.5L398.3 161.7L400.8 164.2L398.3 166.7L395.0 165.8Z"/>
<path d="M397.5 135.0L401.7 131.7L406.7 130.8L411.7 135.0L416.7 136.7L421.7 138.3L423.3 143.3L420.0 145.8L415.0 147.5L408.3 148.3L403.3 146.7L400.0 141.7Z"/>
<path d="M300.0 190.8L303.3 189.2L308.3 192.5L312.5 194.2L314.2 191.7L318.3 192.5L325.0 193.3L331.7 194.2L335.8 196.7L340.0 195.8L339.2 201.7L345.0 202.5L351.7 203.3L359.2 202.5L360.0 200.0L363.3 196.7L368.3 197.5L373.3 199.2L378.3 201.7L385.0 202.5L386.7 196.7L385.0 195.0L390.8 192.5L396.7 194.2L400.0 196.7L395.8 203.3L392.5 200.0L391.7 203.3"/>
<path d="M311.7 210.8L316.7 210.0L321.7 207.5L327.5 206.3L330.0 208.3L325.0 210.0L331.7 210.8L329.2 213.3L325.0 214.2L323.3 217.5L320.0 216.7L320.8 213.3L316.7 212.5Z"/>
<path d="M410.3 130.8L415.3 127.5L425.3 125.0L435.3 123.3L445.3 122.0L458.7 122.0L472.0 122.5L485.3 124.2L493.7 125.8L490.3 128.3L485.3 130.0L478.7 132.5L472.0 135.0L465.3 137.5L458.7 140.8L454.5 144.2L452.0 148.3L447.0 150.0L443.7 154.2L439.5 156.7L433.7 157.5L427.0 158.3L420.3 157.5L413.7 158.3L412.0 155.8L417.0 153.3L419.5 149.2L423.7 145.8L426.2 142.5L423.7 140.0L420.3 137.5L415.3 135.8L412.0 134.2L409.5 132.5Z"/>
<path d="M418.7 135.8L428.7 135.3L440.3 134.2L446.2 133.3"/>
<path d="M397.8 135.8L402.0 131.7L406.2 131.3L408.7 134.2L413.7 136.7L419.5 139.2L422.8 141.7L421.2 145.0L417.0 147.5L410.3 148.3L405.3 147.5L402.0 145.0L401.2 140.8Z"/>
<path d="M406.2 160.8L412.0 159.2L422.0 158.3L432.0 159.7L439.5 161.7L440.3 165.0L435.3 166.7L425.3 167.0L415.3 166.7L408.7 165.8L405.3 163.3Z"/>
<path d="M520.0 126.7L512.0 125.8L505.3 126.7L498.7 127.5L492.0 129.2L487.0 131.7L482.8 134.2L483.7 139.2L478.7 140.8L472.0 143.3L465.3 145.8L460.3 148.3L465.3 150.0L471.2 150.8L469.5 154.2L465.3 153.3L470.3 156.7L477.0 160.0L482.0 158.3L488.7 158.0L495.3 158.7L500.3 161.7L505.3 166.7L508.7 173.3L509.5 180.0L512.0 183.3L517.0 182.5L520.0 183.3"/>
<path d="M412.0 178.3L413.7 174.2L418.7 172.0L425.3 171.3L435.3 171.7L442.0 171.3L447.8 172.0L450.3 176.7L455.3 178.3L458.7 181.7L465.3 184.2L470.3 186.7L474.5 190.8L477.0 195.0L473.7 196.7L474.5 200.0L480.3 202.5L485.3 205.0L490.3 206.7L492.0 210.0"/>
<path d="M424.5 172.0L422.0 176.7L422.8 181.7L424.5 182.5M436.2 172.0L435.3 175.8L437.8 178.3L442.0 176.7L448.7 176.7"/>
<path d="M412.0 178.3L412.8 183.3L417.0 186.7L422.0 189.2L427.8 190.8L432.0 191.7L435.3 190.8L442.0 191.7L445.3 190.0L449.5 193.3L452.0 196.7L456.2 198.3L460.3 201.7L461.2 206.7L458.7 210.0M432.0 191.7L432.8 195.8L435.3 198.3L434.5 202.5L436.2 205.0L433.7 208.3L432.0 210.0M425.3 191.3L424.5 196.7L423.7 201.7L421.2 205.0L418.7 203.3L417.0 200.0L417.0 195.8L413.7 196.7L410.3 198.3L408.7 195.8L405.3 192.5L404.5 188.3L402.0 185.0L398.7 181.7L395.3 178.3L395.3 173.3L397.8 170.8L403.7 170.0L408.7 170.8L410.3 173.3L407.0 175.8L404.5 178.3L402.0 180.0"/>
<path d="M447.8 202.5L450.3 200.0L453.7 200.8L454.5 204.2L451.2 206.7L448.7 205.8Z"/>
<path d="M520.0 191.7L520.0 186.7L514.0 185.0L510.0 175.0L505.0 166.7L496.7 160.0L483.3 156.7M631.7 131.7L620.0 136.7L613.3 146.7L611.7 156.7L613.3 165.0L608.3 171.7L603.3 180.0L596.7 188.3L586.7 195.0L576.7 200.0L566.7 206.7L556.7 211.7L550.0 218.3L548.3 230.0L545.0 241.7L541.7 244.0L533.3 238.3L526.7 230.0L521.7 220.0L516.7 210.0L514.0 200.0L515.0 193.3L520.0 191.7M568.3 121.7L583.3 121.7L600.0 125.0L613.3 128.3L631.7 131.7M591.7 126.7L603.3 128.3L600.0 131.7L593.3 130.7Z"/>
<path d="M598.3 215.0L603.3 210.7L608.3 213.3L613.3 210.0L621.7 210.7L626.7 215.0L625.0 220.0L618.3 224.0L610.0 225.0L603.3 221.7L601.7 216.7Z"/>
<path d="M424.0 209.3L419.8 214.3L415.7 220.2L410.7 222.7L407.3 228.5L402.3 233.5L398.2 239.3L397.3 246.0L400.7 251.8L404.0 256.8L404.8 260.2L409.8 259.3L415.7 261.0L419.8 264.3L425.7 267.7L429.8 269.3L432.3 271.8L434.0 277.7L435.7 282.7L439.0 287.7L440.7 291.3L443.2 286.8L443.2 279.3L443.2 272.7L446.5 269.3L448.2 264.3L448.2 258.5L445.7 253.5L443.2 248.5L446.5 246.0L447.3 241.8L445.7 236.8L444.8 231.8L449.0 231.0L454.0 231.8L459.0 231.8L462.3 235.2L464.0 238.5L468.2 240.2L469.8 244.3L470.7 249.3L474.8 252.7L478.2 250.2L479.8 245.2L482.3 242.7L485.7 244.3L488.2 249.3L490.7 255.2L492.3 260.2L494.8 264.3L499.0 267.7L502.3 271.0L503.2 274.3L506.5 276.8L509.0 281.0"/>
<path d="M424.0 210.2L429.0 216.0L434.0 220.2L438.2 222.7L434.8 224.7L429.8 222.7L425.7 225.7L423.7 224.0L419.8 223.5L422.3 217.7L421.5 212.7Z"/>
<path d="M429.8 231.3L433.2 229.3L434.0 230.7L431.0 232.3ZM439.8 231.8L441.5 231.0L442.0 234.0L440.3 234.7ZM439.8 262.7L441.5 261.8L442.3 264.3L440.7 265.2ZM434.0 280.2L436.0 279.3L437.3 281.8L435.3 282.7Z"/>
<path d="M434.0 196.0L433.2 201.0L427.3 205.2L422.3 204.3L419.8 201.0L418.2 196.0M453.2 196.0L449.8 198.5L448.2 202.7L449.8 205.2L453.2 204.3L454.8 201.8L454.0 198.5ZM455.7 196.0L460.7 200.2L461.5 204.3L458.2 208.5L454.0 211.8L448.2 214.3L444.0 216.0L444.0 219.3L448.2 221.0L454.0 221.0L459.0 221.8L463.2 224.3L465.7 227.7L470.7 229.3L474.8 231.8L478.2 229.3L482.3 228.5L484.0 225.2L479.0 224.3L474.8 222.7L477.3 219.3L480.7 221.0L484.0 217.7L478.2 214.3L476.5 211.0L479.8 211.8L485.7 216.0L489.0 213.5L492.3 208.5L487.3 206.0L480.7 202.7L476.5 199.3L474.0 196.0"/>
<path d="M385.3 277.7L387.0 276.3L389.0 280.2L390.7 286.0L392.3 291.8L391.0 294.3L389.0 289.3L387.0 283.5ZM384.0 289.3L385.7 288.5L387.3 294.3L385.7 295.2Z"/>
<path d="M648.2 376.0L643.0 381.2L639.9 388.5L638.8 396.8L635.7 403.1L633.6 409.3L630.5 413.5L627.4 414.5L625.3 420.8L622.6 430.2L620.1 438.5L618.0 444.8L619.0 453.1L620.1 463.5L621.1 471.8L620.5 474.3"/>
<path d="M629.5 414.5L642.6 414.5M642.6 414.5L642.6 421.8L633.0 422.2L633.0 429.1L631.5 437.5L629.5 438.5L629.5 447.2L618.6 447.2"/>
<path d="M662.8 376.0L663.4 384.3L663.4 389.5L658.6 391.6L656.5 396.8L651.3 401.0L646.1 404.1L642.6 408.3L642.6 414.5"/>
<path d="M642.6 416.6L651.3 427.0L659.7 436.4L668.0 446.8L673.2 452.0L675.9 458.3L680.5 458.3L684.7 453.1L688.8 447.9L693.0 444.8"/>
<path d="M651.3 428.1L647.6 428.1L648.8 438.5L650.3 459.3L651.3 473.9"/>
<path d="M675.9 458.3L678.4 459.3L678.0 467.7L677.6 473.9"/>
<path d="M618.0 410.4L620.1 411.4M621.8 412.5L623.2 413.1M626.8 409.3L628.0 406.8"/>
<path d="M690.9 376.0L687.8 380.2L688.8 385.4L693.0 388.5"/>
<path d="M334.5 237.7L339.7 234.6L343.8 231.5L350.1 229.4L356.3 228.8L357.4 230.4L352.2 232.5L348.0 235.6L342.8 238.8L337.6 238.8Z"/>
<path d="M351.8 250.8L354.2 246.7L359.5 245.4L361.5 247.1L356.3 249.2L353.2 251.7Z"/>
<path d="M374.7 262.7L375.5 257.5L377.6 253.8L378.8 255.4L377.2 259.6L376.1 263.3Z"/>
<path d="M520.0 126.7L536.7 122.0L553.3 121.0L568.3 121.7"/>
<path d="M619.5 470.0L619.5 473.9L617.6 481.7L619.5 489.5L620.2 494.7L622.8 498.6L625.4 503.2L628.0 507.8L629.3 510.4L629.3 518.2L631.9 522.1L635.2 526.0L639.1 531.2L642.3 535.8L644.3 537.4L646.9 535.1L652.1 533.2L657.3 533.2L659.9 534.5L663.8 532.5L669.0 529.2L671.0 527.3L674.9 525.3L679.4 526.0L681.4 528.6L682.0 533.8L683.3 537.1L687.2 537.4L691.1 536.1L692.7 532.5"/>
<path d="M619.5 473.9L621.5 472.0L625.4 471.6L628.0 473.3L629.9 476.5L631.2 480.4L632.6 482.4L633.9 479.1L639.1 478.1L645.6 478.5L651.4 478.1L651.8 473.9L651.0 470.0"/>
<path d="M619.5 489.5L622.8 487.6L626.7 488.2L627.3 490.2L623.4 490.2L620.2 490.8"/>
<path d="M620.2 494.7L624.1 494.1L628.0 493.8L631.9 494.5L633.2 492.8L632.6 489.5L632.6 482.4"/>
<path d="M632.6 489.5L633.9 492.1L635.2 494.7L639.1 495.4L640.4 493.4L641.7 495.4L642.3 499.9L643.6 504.5L644.9 505.8L647.5 503.9L649.5 504.5L651.4 505.2"/>
<path d="M625.4 503.2L627.3 498.6L628.0 495.4L631.9 494.7M629.3 510.4L630.6 508.4L634.5 507.8L635.8 510.4L636.5 514.3L637.8 514.9L638.4 518.2L639.7 520.1L642.3 520.1L643.0 515.6L644.9 505.8"/>
<path d="M639.1 531.2L637.8 527.3L635.2 523.4L634.5 520.1L636.5 516.9L639.1 520.1M642.3 520.1L643.0 524.7L644.9 527.9L645.6 535.1L644.3 537.4"/>
<path d="M651.4 505.2L652.1 497.3L654.0 493.4L654.7 489.5L657.9 486.9L661.2 483.0L664.5 480.7L667.7 481.1L670.3 479.1L674.2 478.5L677.5 476.5L678.8 472.6L678.8 470.0"/>
<path d="M651.4 505.2L653.4 508.4L657.3 507.8L658.6 509.1L658.9 501.9L667.1 501.2L669.0 501.9L673.6 497.3L676.8 495.4L676.2 494.1L672.9 492.8L669.7 489.5L667.7 485.6L667.7 481.1"/>
<path d="M658.6 509.1L657.9 515.6L657.3 522.1L657.9 527.3L657.3 533.2"/>
<path d="M667.1 501.2L667.7 509.1L668.8 519.5L669.0 527.3L669.0 529.2M669.0 501.9L671.4 509.1L671.4 519.5L671.6 526.0L671.0 527.3M676.8 495.4L677.9 501.2L676.2 507.8L674.9 514.3L674.5 522.1L674.9 525.3"/>
<path d="M676.8 495.4L678.1 491.5L681.4 486.9L684.6 488.2L687.2 490.2L689.8 489.5L692.7 491.5"/>
<path d="M380.0 143.1L385.0 146.9L387.5 145.0L392.5 146.2L397.5 148.1L403.8 150.0L404.4 151.9L398.8 151.9L393.8 151.2"/>
<path d="M380.0 152.5L383.8 153.1L387.5 155.0L389.4 158.8L388.8 162.5L385.0 163.8L380.0 163.1"/>
<path d="M456.9 345.5L456.9 349.2L455.8 352.4L454.4 354.7L452.7 352.4L453.8 355.5L453.8 358.2L452.4 361.8L451.3 364.5L451.3 360.3L450.1 355.0L450.7 352.4L449.8 357.1L450.4 361.8L450.4 365.0L451.5 367.1L452.7 374.0L449.8 377.1L447.0 379.2L445.7 381.6L443.0 382.9L440.2 387.7L437.4 391.4L435.9 396.6L435.9 400.3L438.2 410.3L439.8 418.8L439.5 424.6L438.8 427.2L436.8 427.5L434.8 422.5L432.0 413.5L432.3 407.2L429.4 402.2L427.7 401.6L424.9 403.5L421.5 399.8L418.4 400.3L416.9 399.8L414.1 400.1L412.7 401.1L413.3 407.2L410.7 406.1L407.9 404.5L405.0 404.3L400.6 403.5L398.2 405.1L395.7 408.8L392.3 412.4L390.9 415.6L391.3 423.2L389.7 430.9L389.4 440.9L390.9 449.3L393.4 457.2L394.8 460.9L398.8 464.4L403.1 462.8L406.2 462.0L409.0 458.3L410.4 450.4L411.6 448.8L415.8 446.7L420.1 446.4L420.6 449.9L418.6 455.7L417.8 463.6L416.4 465.2L416.7 471.0L414.7 476.2L417.2 477.0L422.9 476.5L426.0 476.2L430.3 479.9L430.8 481.5L430.0 488.9L429.4 496.8L429.4 502.6L431.7 508.9L433.7 512.6L435.7 513.4L437.7 513.1L440.2 510.7L442.8 509.7L445.9 512.6L447.4 514.7L449.0 517.3L448.7 514.7L450.4 512.6L452.4 509.4L452.7 504.2L454.7 501.8L456.4 500.5L458.9 500.5L462.0 497.3L464.3 494.7L463.5 498.4L464.3 501.5L462.9 506.3L464.0 511.5L465.4 511.0L464.9 505.2L464.3 502.3L467.7 499.4L468.3 495.7L469.1 499.4L472.8 501.0L473.4 504.2L479.1 504.2L482.5 506.8L484.4 504.2L489.0 503.6L491.3 503.6L489.3 506.8L493.8 510.0L494.4 515.2L497.2 516.3L500.9 523.1L504.6 528.9L508.3 528.9L513.7 529.5L516.8 532.1L520.2 536.8L522.2 539.5L524.1 550.5L525.3 554.8"/>
<path d="M443.0 553.7L443.9 549.5L446.7 545.8L448.1 540.0L447.0 538.4L447.4 530.5L447.0 525.2L445.9 522.1L445.0 520.5L444.5 515.8L442.8 513.1L440.8 513.6L438.8 516.8L439.9 520.0L438.8 521.6L436.8 520.0L434.5 516.8L431.7 517.6L429.7 514.7L428.6 511.0L426.6 507.6L425.5 509.4L423.5 506.8L423.8 502.6L423.3 501.0L420.9 495.7L418.9 492.0L418.1 489.9L416.4 490.7L413.5 489.1L410.4 487.0L407.6 486.5L405.2 483.3L402.2 477.8L399.4 474.6L397.4 474.6L394.3 477.3L391.7 476.2L387.5 474.1L383.5 471.2L380.4 468.8L377.0 465.4L373.3 463.6L370.7 459.4L368.2 456.2L367.0 452.5L367.6 450.4L368.2 446.7L367.0 441.4L365.0 437.7L363.9 435.6L361.4 431.4L359.4 427.2L356.8 423.5L355.7 419.3L353.4 416.1L352.3 413.0L350.3 409.8L348.6 405.6L347.5 400.8L346.3 396.1L344.6 395.0L341.8 392.7L341.2 393.5L341.5 398.2L342.9 403.0L344.9 407.7L346.9 412.4L348.3 416.7L350.3 419.8L351.2 424.0L352.9 429.3L354.0 432.5L355.4 433.0L356.4 437.2L355.1 439.3L354.0 436.7L352.0 433.5L348.9 429.3L348.3 423.5L345.8 419.3L342.6 417.2L340.7 413.5L343.2 413.0L342.9 409.3L340.1 404.5L338.1 399.8L336.1 392.4L334.6 388.6L334.1 386.1L331.0 382.1L330.7 380.8L328.7 380.0L325.1 378.4L324.6 375.0L321.1 367.1L319.4 362.4L319.4 360.8L318.0 359.7L315.7 352.9L314.1 347.1L314.9 343.9L314.6 338.6L313.7 334.2L314.9 328.1L315.3 316.5L314.9 313.9L313.2 305.2L317.4 306.2L318.8 311.2L319.7 309.1L319.4 304.9L318.5 301.8L317.4 300.2L312.9 296.5L306.6 291.7L304.4 288.0L303.5 282.8L300.4 278.6L297.3 273.8L297.8 270.1"/>
<path d="M316.8 304.9L312.3 302.8L307.8 298.6L302.9 292.8L305.2 292.3L311.4 296.0L315.1 300.7Z"/>
<path d="M405.2 483.3L405.3 479.4L406.7 475.4L410.4 475.2L407.6 469.1L408.7 466.2L414.0 466.2L414.0 476.2L414.7 476.2"/>
<path d="M414.0 466.2L416.4 465.2"/>
<path d="M414.0 476.2L413.4 484.1L411.3 487.6"/>
<path d="M413.4 484.1L415.8 486.8L417.9 489.4"/>
<path d="M419.2 491.5L420.9 487.3L423.8 486.8L426.0 482.0L430.8 481.2"/>
<path d="M423.8 501.5L426.6 502.0L429.4 502.6"/>
<path d="M431.7 517.6L431.7 510.0L432.5 509.4"/>
<path d="M445.9 522.1L447.6 518.4L447.4 514.7"/>
<path d="M464.3 497.8L461.8 501.5L459.8 511.0L461.5 515.8L462.6 523.1L468.0 523.1L470.0 527.9L475.4 527.3L474.5 536.3L475.9 542.1L474.5 545.3L476.2 547.9L477.1 553.7"/>
<path d="M443.0 553.7L446.4 555.8"/>
<path d="M496.6 515.2L492.7 520.0L495.5 523.7L493.2 528.4L494.7 532.6L496.6 533.1L497.2 536.8L496.6 545.8L499.5 553.2L502.3 552.1L504.3 549.5L506.6 550.0L508.3 546.9L512.0 547.9L513.7 541.1L512.5 536.3L513.7 529.5"/>
<path d="M504.6 528.9L504.3 533.7L502.6 535.8L504.3 542.1L504.3 549.5"/>
<path d="M512.0 547.9L514.2 547.9L517.6 546.9L520.2 538.9L520.2 536.8"/>
<path d="M484.4 538.4L485.3 546.9L487.0 548.4L484.7 552.1L481.0 555.3"/>
<path d="M494.7 532.6L488.7 538.9L484.4 538.4L481.0 555.3L477.1 553.7"/>
<path d="M425.9 444.9L428.6 440.4L432.0 438.5L436.5 438.0L439.9 439.3L443.6 442.0L447.9 445.6L451.3 448.5L454.4 451.2L456.5 453.3L454.1 455.1L446.4 455.4L448.1 452.0L445.0 450.7L443.3 446.2L438.5 443.8L434.8 443.0L432.0 440.4L428.9 443.0Z"/>
<path d="M455.7 463.3L460.3 464.4L463.5 466.5L468.3 463.6L472.8 464.1L471.1 459.9L468.6 456.2L463.5 455.1L458.6 455.1L460.3 458.3L461.5 462.0L457.5 462.0Z"/>
<path d="M463.5 466.5L462.9 462.0L463.5 456.2"/>
<path d="M444.6 463.6L447.6 462.5L450.7 465.2L447.9 466.5Z"/>
<path d="M476.1 463.0L480.6 463.0L480.2 465.4L476.2 465.4Z"/>
<path d="M444.7 427.2L446.2 427.7L446.4 431.9L445.0 430.9Z"/>
<path d="M445.9 419.3L448.1 420.3L448.4 421.4"/>
<path d="M450.7 427.2L451.0 429.8L453.0 432.5"/>
<path d="M453.2 435.6L454.4 438.3"/>
<path d="M457.8 448.8L459.8 447.8"/>
<path d="M491.3 507.1L494.1 506.5L494.1 502.8L491.8 503.6Z"/>
<path d="M224.2 455.9L224.8 453.3L226.9 455.4L227.8 457.2L225.4 460.1L224.7 459.4Z"/>
<path d="M222.5 449.6L224.4 450.4L223.2 451.4Z"/>
<path d="M218.0 446.4L219.6 447.2L218.4 447.8Z"/>
<path d="M213.7 443.5L215.0 443.0L214.6 444.6Z"/>
<path d="M220.7 448.3L222.3 448.5"/>
<path d="M456.9 345.5L458.1 343.9L462.6 342.3L464.3 341.5L465.7 341.0L466.6 341.0L468.3 340.5L468.4 339.2L467.7 338.4L466.9 339.7L466.3 337.6L465.4 336.8L466.6 335.2L466.0 333.9L467.7 330.2L470.5 328.4L472.8 326.5L476.8 323.9L476.2 321.8L479.6 321.5L483.0 319.7L484.2 321.3L480.2 324.9L479.1 329.2L481.0 330.7L484.4 326.0L486.7 324.9L492.7 322.0L493.8 321.0L497.2 317.8L495.5 312.8L492.4 319.1L488.7 319.1L484.7 317.0L483.3 312.8L482.5 308.6L480.2 307.3L478.8 307.0L482.7 306.0L484.7 302.5L481.0 300.4L476.8 302.3L472.5 305.4L468.6 310.2L465.7 312.6L464.9 313.3L467.7 308.6L469.4 306.0L472.3 302.0L475.7 299.6L478.5 295.4L485.3 294.9L491.5 295.7L496.6 294.9L499.8 291.2L504.6 288.6L508.0 285.9L508.8 282.2L508.0 278.0L504.3 275.4L502.0 271.7L498.9 269.1"/>
<path d="M457.1 346.0L462.6 343.7L460.9 344.7L457.2 346.1Z"/>
<path d="M498.6 309.1L500.9 304.4L498.9 304.4L502.3 298.6L505.1 292.3L508.3 288.0L509.4 291.2L506.0 297.0L508.6 296.5L510.8 300.2L514.8 299.6L516.5 303.9L513.9 307.0L517.3 309.1L516.2 314.1L513.7 310.2L513.1 313.1L510.8 312.3L508.3 312.8L508.0 309.7L503.7 309.1Z"/>
<path d="M484.2 313.9L487.6 315.2L491.0 315.2L489.5 317.6L485.9 316.0Z"/>
<path d="M483.9 297.3L489.5 299.1L491.8 301.2L486.7 299.9Z"/>
<path d="M405.6 313.6L408.7 312.8L410.4 314.4L414.4 312.8L416.1 310.7L417.8 309.9L416.7 312.3L418.6 314.9L421.5 314.9L425.7 313.6L426.9 315.2L427.2 312.3L425.7 307.5L422.3 303.3L416.7 302.3L413.5 306.5L411.6 308.1L408.2 310.7Z"/>
<path d="M418.4 340.2L417.8 336.0L417.5 331.8L418.6 326.5L420.1 322.8L418.4 322.3L421.5 318.1L425.7 317.6L426.4 318.9L424.3 322.8L424.0 323.9L422.2 325.5L421.5 330.2L422.3 336.0L420.6 339.7Z"/>
<path d="M426.4 318.9L430.0 321.3L430.6 323.4L430.6 326.5L428.9 328.6L430.0 330.0L431.7 327.8L433.0 333.4L435.1 331.3L435.1 326.5L436.2 322.8L439.6 325.5L440.5 323.4L438.5 319.7L435.7 317.6L431.4 316.5L428.3 315.5Z"/>
<path d="M430.1 340.1L432.3 341.3L435.1 341.3L438.5 338.6L442.8 334.7L443.0 333.9L439.4 334.4L435.7 335.5L432.8 338.6L431.1 338.1Z"/>
<path d="M440.5 331.8L442.8 332.1L447.0 332.1L450.7 330.5L450.7 327.6L447.0 328.1L442.8 329.2Z"/>
<path d="M675.6 336.5L675.9 339.2L669.4 344.4L665.9 351.8L667.4 355.8L664.8 361.8L660.6 366.3L654.3 366.6L651.5 369.7L649.8 369.2L648.6 366.1L645.8 363.9L641.8 365.0L641.6 357.6L639.9 355.5L642.1 348.1L641.6 343.9L641.8 338.1L640.7 332.8L644.1 329.7L650.4 330.2L656.0 331.0L661.7 331.3L663.4 324.9L663.7 319.7L660.8 313.3L660.6 310.7L654.3 308.1L653.2 304.9L656.9 302.8L662.3 303.6L661.4 298.1L663.4 298.3L663.7 299.9L667.1 299.1L671.1 296.0L671.3 291.7L673.9 290.7L676.4 289.1L678.7 285.9L680.4 280.7L683.8 278.6L686.7 277.5L690.9 277.5L691.5 270.7L689.8 267.0L690.1 259.6L694.9 256.4"/>
<path d="M641.8 339.2L643.8 338.6L648.1 339.2L649.2 340.8L647.2 343.9L646.9 350.8L645.8 351.8L646.9 358.7L645.8 363.9"/>
<path d="M661.7 331.3L668.8 334.4L675.6 336.5L675.3 332.8L678.7 331.0L683.8 332.8L688.1 329.2L691.8 326.0L695.2 328.1"/>
<path d="M673.9 290.7L678.7 296.5L683.2 299.1L690.1 301.8L688.4 309.1L684.1 316.5L686.7 318.1L685.5 322.3L688.4 327.6L688.1 329.2"/>
<path d="M678.7 296.5L680.4 295.4L683.8 295.4L684.1 292.3L683.0 291.2L681.0 288.8L676.4 289.1"/>
<path d="M684.1 292.3L683.8 287.0L686.7 284.4L686.7 279.1"/>
<path d="M683.2 299.1L685.0 299.1L683.8 295.4"/>
<path d="M688.4 309.1L694.0 309.7L695.2 312.3"/>
<path d="M650.6 296.2L654.9 294.6L656.9 294.4L661.1 292.8L664.0 292.3L667.7 292.5L670.8 290.4L670.8 289.1L668.5 288.6L671.6 282.8L667.7 280.7L667.1 277.5L666.2 275.4L663.4 272.0L662.3 267.5L660.8 265.4L657.7 264.9L659.4 262.2L661.1 256.4L655.7 256.4L658.0 251.1L652.6 251.1L650.6 256.9L649.2 261.2L651.2 264.9L650.9 268.5L653.2 267.0L652.6 270.7L657.2 270.7L658.3 275.4L658.0 279.1L654.0 279.1L654.3 281.7L655.2 283.8L652.1 286.5L652.9 288.0L657.7 289.1L659.1 288.6L656.9 290.2L654.0 291.2Z"/>
<path d="M649.8 284.9L649.2 279.1L650.9 272.8L649.2 269.1L645.2 268.5L642.7 272.2L638.4 274.3L638.7 278.6L640.1 282.8L637.6 285.9L639.6 288.6L643.5 287.0L647.2 285.1Z"/>
<path d="M649.8 275.1L646.1 274.6L643.8 273.0L645.8 270.1"/>
<path d="M650.1 371.3L651.8 370.8L655.5 374.5L658.6 374.0L660.6 375.0L664.0 371.9L667.1 370.3L670.5 367.6L675.3 366.1L681.0 366.1L686.7 365.0L691.2 365.3L694.6 363.4"/>
<path d="M650.1 371.3L648.9 375.5"/>
<path d="M681.0 233.2L681.0 238.5L682.4 246.4L685.2 253.8L689.5 254.3L693.7 250.1"/>
<path d="M645.8 232.7L648.1 232.2"/>
<path d="M662.5 241.7L663.7 243.2"/>
<path d="M317.7 301.8L397.0 301.8L397.0 299.7L397.9 300.2L398.5 303.3L400.8 303.9L403.3 303.9L405.9 305.4L407.6 306.8L409.3 306.0L412.7 307.0"/>
<path d="M315.1 316.2L316.8 316.5L318.3 318.1L318.8 319.7L320.2 319.9L322.2 319.1L323.4 319.7L325.1 319.1L327.6 318.1L329.3 317.6L335.2 317.6"/>
<path d="M334.9 301.8L334.9 315.3L335.2 317.6L336.4 320.2L335.4 323.4L334.4 326.0L335.1 327.3L334.9 329.2L334.9 338.6"/>
<path d="M314.3 338.6L351.9 338.6"/>
<path d="M326.5 338.6L326.5 354.5L341.7 375.5"/>
<path d="M343.4 338.6L343.4 365.0L343.4 369.2L341.4 369.7L341.7 375.5L341.9 376.6L342.4 379.2L343.1 379.5L342.1 382.4L341.5 384.0L342.1 386.1L341.5 387.6"/>
<path d="M343.4 365.0L398.5 365.0"/>
<path d="M357.5 343.9L357.5 394.9"/>
<path d="M351.9 322.8L351.9 343.9L377.4 343.9"/>
<path d="M351.9 338.6L351.9 343.9"/>
<path d="M351.9 322.8L371.7 322.8"/>
<path d="M371.7 301.8L371.7 343.9"/>
<path d="M337.7 301.8L337.7 307.0L338.7 309.9L340.8 312.8L342.5 314.1L342.2 319.9L343.6 319.1L345.1 323.1L346.8 326.0L350.7 325.2L351.9 325.5"/>
<path d="M371.7 317.9L393.0 317.9"/>
<path d="M371.7 333.4L387.5 333.4L389.2 334.2L391.1 334.2L393.1 336.0"/>
<path d="M377.4 343.9L377.4 365.0"/>
<path d="M377.4 349.2L396.5 349.2"/>
<path d="M374.7 365.0L374.6 391.4L364.4 391.4L364.8 392.5L359.9 392.5L359.9 394.9L351.8 394.9L341.2 388.7L341.5 387.6L334.6 388.6"/>
<path d="M374.7 367.6L383.2 367.6L383.2 377.9L385.5 379.2L387.2 380.0L389.2 381.3L391.1 381.9L392.8 381.6L395.1 381.6L396.8 381.1L398.9 382.7L400.1 383.2L400.1 386.0"/>
<path d="M398.5 365.0L398.5 367.6L399.0 373.4L398.9 382.7"/>
<path d="M398.5 365.0L398.5 353.9L397.1 349.7L396.5 349.2L395.2 346.0L394.8 342.9L394.3 340.2L393.4 336.0L393.1 336.0L393.3 330.7L393.3 321.3L392.1 319.7L393.0 317.9L392.3 314.4L392.3 309.7L391.3 306.0L391.1 301.8"/>
<path d="M393.3 330.7L408.1 330.7"/>
<path d="M395.2 346.0L406.7 346.0L407.5 347.2"/>
<path d="M405.9 313.9L405.0 317.0L403.3 319.7L403.8 324.2L406.5 327.1L408.0 330.7L408.4 335.0L409.7 336.0L411.0 339.7L408.7 342.9L408.4 345.5L407.5 347.2L407.6 349.7L409.6 354.5L411.0 355.5L410.7 358.7L413.0 363.4L414.0 365.0L413.3 367.6L412.4 370.3L411.4 375.0L409.9 377.7L408.4 381.3L408.3 386.1L409.0 389.8L407.3 394.5L407.0 396.6L412.3 396.6L412.0 398.5L413.0 400.8"/>
<path d="M400.1 386.0L408.3 386.1"/>
<path d="M400.1 386.0L400.1 391.5L401.5 395.6L401.1 399.3L400.6 403.5"/>
<path d="M398.5 367.6L411.1 367.6L410.6 370.3L412.4 370.3"/>
<path d="M409.7 336.0L417.8 336.0"/>
<path d="M418.6 339.9L418.6 352.9L418.4 356.0L417.4 358.7L417.1 360.8"/>
<path d="M414.0 365.0L416.0 364.5L417.1 360.8L418.6 360.3L420.6 360.0L422.1 358.9L423.8 358.2L424.6 356.0L426.3 353.9L427.4 354.2L429.4 356.3L431.7 356.0L432.5 357.4L433.7 356.6L434.8 354.5L435.9 352.6L437.5 350.8L438.2 347.1L438.4 345.8L438.4 337.1"/>
<path d="M426.3 353.9L426.3 340.2"/>
<path d="M419.5 339.9L426.3 340.2L430.1 340.1"/>
<path d="M438.4 350.7L451.8 350.7L452.4 350.0L453.0 350.2"/>
<path d="M440.6 337.3L440.6 338.6L453.1 338.6L454.0 340.8L455.0 342.0L453.8 344.2L453.5 346.0L454.8 348.4L453.8 349.7L453.0 350.2L452.5 351.8"/>
<path d="M455.0 342.0L457.2 343.9"/>
<path d="M413.3 367.6L417.1 367.6L417.1 366.8L429.5 367.1L435.1 367.2L451.5 367.4"/>
<path d="M410.7 375.5L431.1 375.5"/>
<path d="M416.7 375.5L416.0 391.9L416.1 400.3"/>
<path d="M424.0 375.5L425.2 386.9L425.9 389.8L425.6 396.6L418.4 396.6L418.4 397.4L418.9 399.8"/>
<path d="M425.6 396.6L426.1 398.2L433.7 399.0L434.2 400.1L434.1 397.9L435.7 398.1"/>
<path d="M431.1 375.5L430.4 377.1L432.1 379.5L433.7 382.9L435.7 386.1L436.8 390.8"/>
<path d="M431.1 375.5L433.1 374.5L436.9 374.8L436.9 375.3L437.7 376.5L440.8 376.6L444.0 381.6"/>
<path d="M435.1 367.2L434.0 369.7L431.4 371.3L428.9 372.9L427.7 375.5"/>
<path d="M429.5 367.1L432.5 363.9L434.2 362.1L432.5 358.9L432.5 357.4"/>
<path d="M434.2 362.1L436.5 363.7L439.1 362.4L440.2 358.7L441.9 357.6L443.0 355.5L444.6 352.4L446.3 352.9L447.0 353.9L448.3 355.0L448.4 357.6L450.4 359.7"/>
<path d="M441.4 350.7L441.4 353.4L443.0 352.1L444.6 352.4"/>
<path d="M451.8 350.7L452.1 357.4L454.0 357.4"/>
<path d="M452.1 357.4L452.3 359.7L453.4 359.6"/>
<path d="M457.2 343.9L458.4 342.6L458.4 338.4L459.0 334.7L458.8 322.8"/>
<path d="M458.4 338.4L463.2 338.5L463.2 341.8"/>
<path d="M463.2 338.5L464.4 338.5L464.9 341.3"/>
<path d="M459.0 334.7L464.6 335.0L466.0 334.1"/>
<path d="M461.3 334.8L461.6 330.7L462.5 327.6L463.7 325.5L464.0 322.8"/>
<path d="M466.3 333.0L465.5 331.3L465.4 321.3"/>
<path d="M455.0 322.8L464.0 322.8L465.9 321.3L467.1 318.6L467.6 316.0L468.3 313.9L470.5 309.9L471.4 311.3L473.1 310.4L474.5 311.9L474.6 317.8L475.5 319.7L475.5 321.8L476.8 323.9"/>
<path d="M455.0 322.8L453.2 323.6L450.4 327.1"/>
<path d="M364.8 392.5L369.0 398.5L370.4 403.7L374.1 407.3L375.5 403.5L379.2 403.1L381.2 406.6L382.3 410.9L384.6 415.1L385.8 420.9L388.3 422.7L391.3 423.2"/>
</g></g>
<g stroke="#000" stroke-width="1" fill="none" shape-rendering="crispEdges">
<rect x="90.5" y="104.5" width="602.0" height="452.0"/>
<path d="M99.5 104.5V95.0M99.5 556.5V567.0M156.5 104.5V95.0M156.5 556.5V567.0M213.5 104.5V95.0M213.5 556.5V567.0M269.5 104.5V95.0M269.5 556.5V567.0M326.5 104.5V95.0M326.5 556.5V567.0M383.5 104.5V95.0M383.5 556.5V567.0M439.5 104.5V95.0M439.5 556.5V567.0M496.5 104.5V95.0M496.5 556.5V567.0M553.5 104.5V95.0M553.5 556.5V567.0M610.5 104.5V95.0M610.5 556.5V567.0M666.5 104.5V95.0M666.5 556.5V567.0M90.5 507.5H80.0M692.5 507.5H703.0M90.5 454.5H80.0M692.5 454.5H703.0M90.5 401.5H80.0M692.5 401.5H703.0M90.5 349.5H80.0M692.5 349.5H703.0M90.5 296.5H80.0M692.5 296.5H703.0M90.5 243.5H80.0M692.5 243.5H703.0M90.5 191.5H80.0M692.5 191.5H703.0M90.5 138.5H80.0M692.5 138.5H703.0"/>
</g>
<g shape-rendering="crispEdges" stroke="#000" stroke-width="1">
<rect x="711.5" y="104.5" width="20.0" height="29.00" fill="#990000"/>
<rect x="711.5" y="133.5" width="20.0" height="28.00" fill="#DD0000"/>
<rect x="711.5" y="161.5" width="20.0" height="28.00" fill="#FF2400"/>
<rect x="711.5" y="189.5" width="20.0" height="29.00" fill="#FF6D00"/>
<rect x="711.5" y="218.5" width="20.0" height="28.00" fill="#FFB600"/>
<rect x="711.5" y="246.5" width="20.0" height="28.00" fill="#FFFF00"/>
<rect x="711.5" y="274.5" width="20.0" height="28.00" fill="#CCEB0F"/>
<rect x="711.5" y="302.5" width="20.0" height="28.00" fill="#99D61F"/>
<rect x="711.5" y="330.5" width="20.0" height="29.00" fill="#66C22E"/>
<rect x="711.5" y="359.5" width="20.0" height="28.00" fill="#33AD3D"/>
<rect x="711.5" y="387.5" width="20.0" height="28.00" fill="#00994C"/>
<rect x="711.5" y="415.5" width="20.0" height="29.00" fill="#177A82"/>
<rect x="711.5" y="444.5" width="20.0" height="28.00" fill="#2E5CB8"/>
<rect x="711.5" y="472.5" width="20.0" height="28.00" fill="#453DED"/>
<rect x="711.5" y="500.5" width="20.0" height="28.00" fill="#7F1FFF"/>
<rect x="711.5" y="528.5" width="20.0" height="28.00" fill="#CC00FF"/>
</g>
<text x="743.6" y="110.1" font-size="14" textLength="15.7" lengthAdjust="spacingAndGlyphs">30</text>
<text x="743.6" y="138.3" font-size="14" textLength="15.7" lengthAdjust="spacingAndGlyphs">25</text>
<text x="743.6" y="166.6" font-size="14" textLength="15.7" lengthAdjust="spacingAndGlyphs">20</text>
<text x="743.6" y="194.8" font-size="14" textLength="15.7" lengthAdjust="spacingAndGlyphs">15</text>
<text x="743.6" y="223.1" font-size="14" textLength="15.7" lengthAdjust="spacingAndGlyphs">10</text>
<text x="749.8" y="251.3" font-size="14" textLength="8.4" lengthAdjust="spacingAndGlyphs">5</text>
<text x="749.8" y="279.6" font-size="14" textLength="8.4" lengthAdjust="spacingAndGlyphs">0</text>
<text x="743.5" y="307.9" font-size="14" textLength="19.7" lengthAdjust="spacingAndGlyphs">−5</text>
<text x="736.8" y="336.1" font-size="14" textLength="27.2" lengthAdjust="spacingAndGlyphs">−10</text>
<text x="736.8" y="364.4" font-size="14" textLength="27.2" lengthAdjust="spacingAndGlyphs">−15</text>
<text x="736.8" y="392.6" font-size="14" textLength="27.2" lengthAdjust="spacingAndGlyphs">−20</text>
<text x="736.8" y="420.9" font-size="14" textLength="27.2" lengthAdjust="spacingAndGlyphs">−25</text>
<text x="736.8" y="449.1" font-size="14" textLength="27.2" lengthAdjust="spacingAndGlyphs">−30</text>
<text x="736.8" y="477.4" font-size="14" textLength="27.2" lengthAdjust="spacingAndGlyphs">−35</text>
<text x="736.8" y="505.6" font-size="14" textLength="27.2" lengthAdjust="spacingAndGlyphs">−40</text>
<text x="736.8" y="533.9" font-size="14" textLength="27.2" lengthAdjust="spacingAndGlyphs">−45</text>
<text x="736.8" y="562.1" font-size="14" textLength="27.2" lengthAdjust="spacingAndGlyphs">−50</text>
<text x="84.1" y="580.8" font-size="12.2" textLength="30.2" lengthAdjust="spacingAndGlyphs">−200</text>
<text x="198.1" y="580.8" font-size="12.2" textLength="30.2" lengthAdjust="spacingAndGlyphs">−160</text>
<text x="311.1" y="580.8" font-size="12.2" textLength="30.2" lengthAdjust="spacingAndGlyphs">−120</text>
<text x="427.9" y="580.8" font-size="12.2" textLength="22.6" lengthAdjust="spacingAndGlyphs">−80</text>
<text x="541.9" y="580.8" font-size="12.2" textLength="22.6" lengthAdjust="spacingAndGlyphs">−40</text>
<text x="662.5" y="580.8" font-size="12.2" textLength="8.0" lengthAdjust="spacingAndGlyphs">0</text>
<text x="61.6" y="195.4" font-size="11.5" textLength="13.6" lengthAdjust="spacingAndGlyphs">70</text>
<text x="61.6" y="300.4" font-size="11.5" textLength="13.6" lengthAdjust="spacingAndGlyphs">50</text>
<text x="61.6" y="405.4" font-size="11.5" textLength="13.6" lengthAdjust="spacingAndGlyphs">30</text>
<text x="61.6" y="511.4" font-size="11.5" textLength="13.6" lengthAdjust="spacingAndGlyphs">10</text>
<text x="391.7" y="598.8" font-size="13" text-anchor="middle" textLength="63.5" lengthAdjust="spacingAndGlyphs">LONGIDOT</text>
<text transform="translate(52.2 330) rotate(-90)" font-size="13" text-anchor="middle" textLength="56" lengthAdjust="spacingAndGlyphs">LATITDOT</text>
<text x="90.4" y="59.3" font-size="12" textLength="27.9" lengthAdjust="spacingAndGlyphs">TIME</text>
<text x="127.0" y="59.3" font-size="12" textLength="2.2" lengthAdjust="spacingAndGlyphs">:</text>
<text x="138.3" y="59.3" font-size="12" textLength="96.7" lengthAdjust="spacingAndGlyphs">31−JUL−1979</text>
<text x="244.6" y="59.3" font-size="12" textLength="35.4" lengthAdjust="spacingAndGlyphs">12:00</text>
<text x="288.3" y="59.3" font-size="12" textLength="13.4" lengthAdjust="spacingAndGlyphs">to</text>
<text x="308.3" y="59.3" font-size="12" textLength="98.0" lengthAdjust="spacingAndGlyphs">31−AUG−1979</text>
<text x="417.1" y="59.3" font-size="12" textLength="35.0" lengthAdjust="spacingAndGlyphs">12:00</text>
<text x="452.5" y="59.3" font-size="12" textLength="30.8" lengthAdjust="spacingAndGlyphs">DATA</text>
<text x="491.0" y="59.3" font-size="12" textLength="26.7" lengthAdjust="spacingAndGlyphs">SET:</text>
<text x="526.0" y="59.3" font-size="12" textLength="164.4" lengthAdjust="spacingAndGlyphs">exp.0.2.cru.pnlmm5.tmin</text>
<text x="331.3" y="80.2" font-size="12" textLength="25.7" lengthAdjust="spacingAndGlyphs">CRU</text>
<text x="365.4" y="80.2" font-size="12" textLength="15.4" lengthAdjust="spacingAndGlyphs">ts</text>
<text x="385.0" y="80.2" font-size="12" textLength="29.2" lengthAdjust="spacingAndGlyphs">2.10</text>
<text x="422.9" y="80.2" font-size="12" textLength="28.3" lengthAdjust="spacingAndGlyphs">tmin</text>
<text x="692.4" y="14.8" font-size="7.6" text-anchor="middle" textLength="59.5" lengthAdjust="spacingAndGlyphs">FERRET Ver. 5.70</text>
<text x="692.4" y="22.6" font-size="7.6" text-anchor="middle" textLength="59" lengthAdjust="spacingAndGlyphs">NOAA/PMEL TMAP</text>
<text x="692.4" y="30.2" font-size="7.6" text-anchor="middle" textLength="77" lengthAdjust="spacingAndGlyphs">Jan 21 2005 16:31:27</text>
<text class="ser" x="110.0" y="630.4" font-size="19.5" textLength="53.0" lengthAdjust="spacingAndGlyphs">TMIN[</text>
<text class="ser" x="163.8" y="630.4" font-size="19.5" textLength="259.9" lengthAdjust="spacingAndGlyphs">D=exp.0.2.tmaxtminprcp,</text>
<text class="ser" x="426.7" y="630.4" font-size="19.5" textLength="160.5" lengthAdjust="spacingAndGlyphs">L=213:243@AVE]</text>
<text class="ser" x="590.4" y="630.4" font-size="19.5" textLength="82.1" lengthAdjust="spacingAndGlyphs">−273.15</text>
</svg></body></html>
